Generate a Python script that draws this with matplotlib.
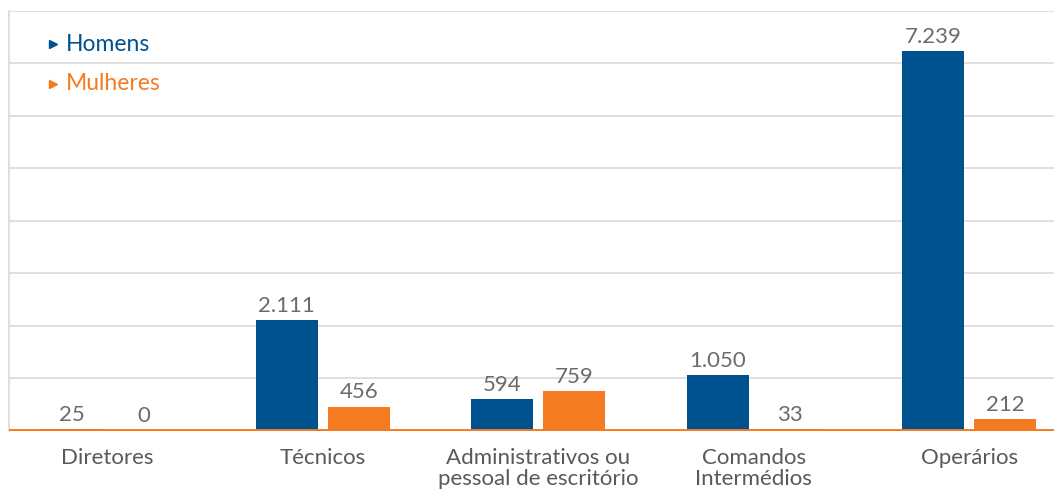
import matplotlib
matplotlib.use("Agg")
import matplotlib.pyplot as plt
import numpy as np

# dados
categorias = ["Diretores", "Técnicos", "Administrativos ou\npessoal de escritório",
              "Comandos\nIntermédios", "Operários"]
homens = [25, 2111, 594, 1050, 7239]
mulheres = [0, 456, 759, 33, 212]

azul = "#00528F"
laranja = "#F47B20"
cinza_txt = "#6b6b6b"

plt.rcParams["font.family"] = ["Lato", "DejaVu Sans"]

def fmt(v):
    return f"{v:,}".replace(",", ".")

fig = plt.figure(figsize=(10.54, 4.9), dpi=100)
ax = fig.add_axes([0.0085, 0.1214, 0.9915, 0.8562])

x = np.arange(len(categorias))
w = 0.288
off = 0.167
b1 = ax.bar(x - off, homens, w, color=azul, zorder=2)
b2 = ax.bar(x + off, mulheres, w, color=laranja, zorder=2)

for rects, vals in ((b1, homens), (b2, mulheres)):
    for r, v in zip(rects, vals):
        ax.annotate(fmt(v), (r.get_x() + r.get_width() / 2, v),
                    xytext=(0, 3), textcoords="offset points",
                    ha="center", va="bottom", fontsize=16, color=cinza_txt)

ax.axhline(0, color=laranja, lw=2.8, zorder=3)

ax.set_ylim(0, 8000)
ax.set_xlim(-0.457, 4.394)
ax.set_yticks(np.arange(0, 8001, 1000))
ax.yaxis.grid(True, color="#d9d9d9", lw=1.2, zorder=0)
ax.tick_params(axis="y", left=False, labelleft=False)
ax.tick_params(axis="x", bottom=False, pad=9)
ax.set_xticks(x)
ax.set_xticklabels(categorias, fontsize=16, color="#595959", linespacing=1.05)

for s in ("top", "right", "bottom"):
    ax.spines[s].set_visible(False)
ax.spines["left"].set_color("#d9d9d9")
ax.spines["left"].set_linewidth(1.2)

# legenda
for yy, nome, cor in ((0.921, "Homens", azul), (0.826, "Mulheres", laranja)):
    ax.plot([0.042], [yy], marker=">", ms=6, color=cor, ls="none",
            transform=ax.transAxes, clip_on=False)
    ax.text(0.0545, yy, nome, color=cor, fontsize=16.5, va="center", ha="left",
            transform=ax.transAxes)

fig.savefig("out.png", dpi=100)
